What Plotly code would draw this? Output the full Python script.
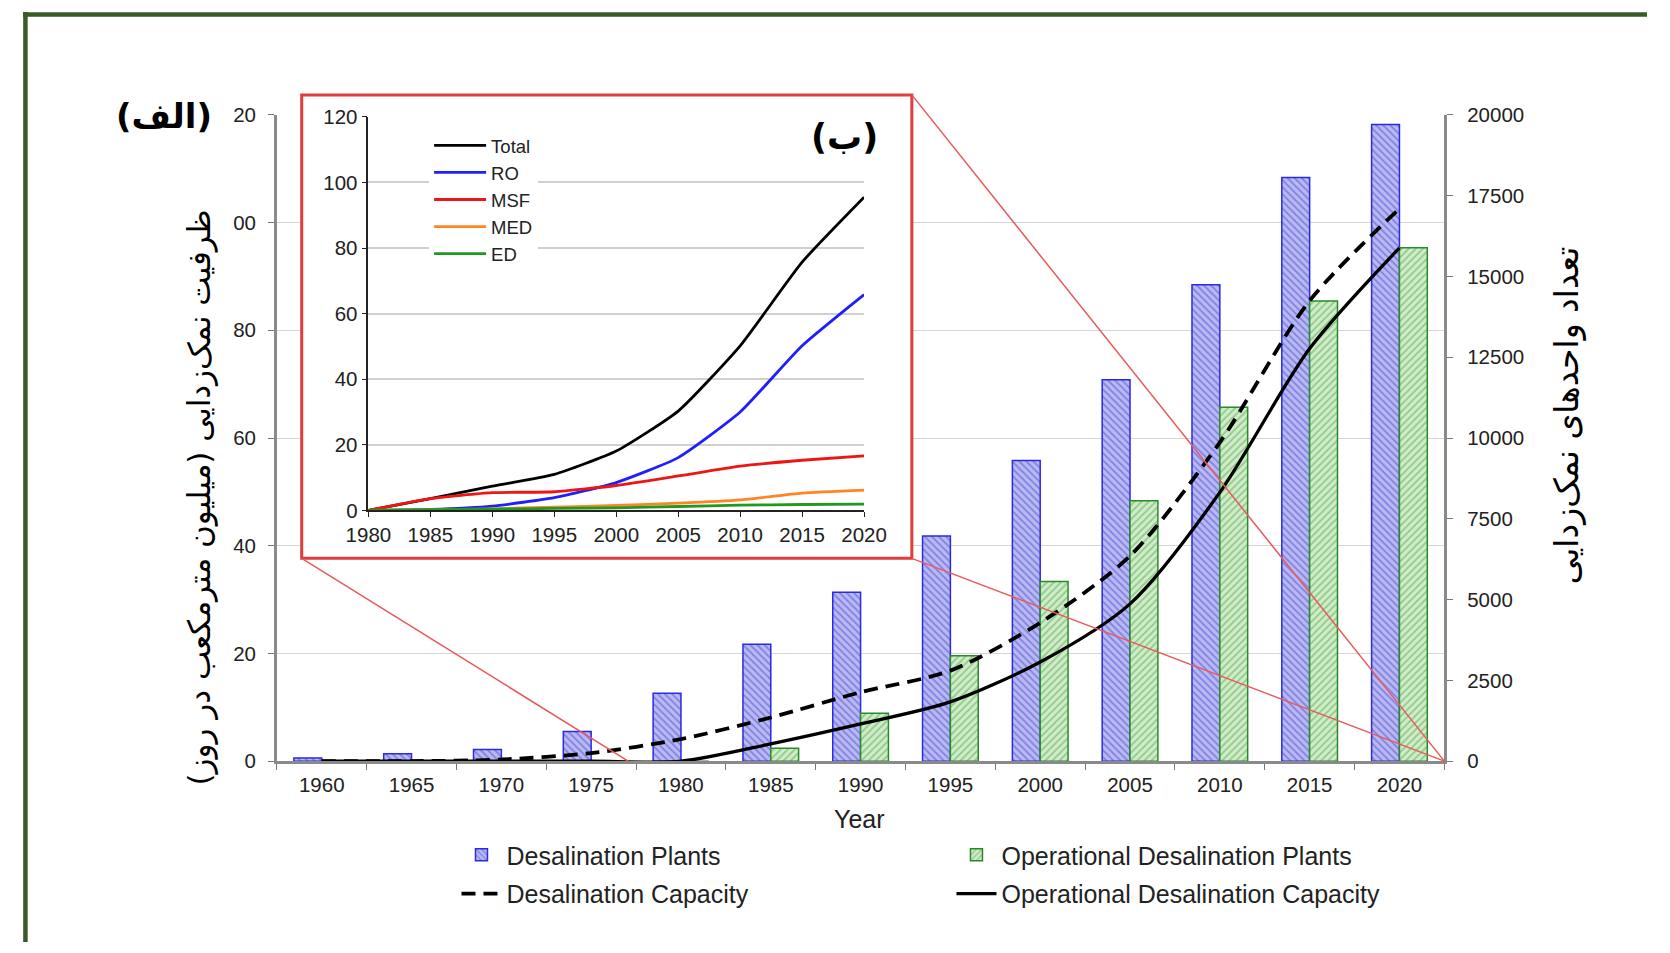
import plotly.graph_objects as go

# ---------------- data ----------------
years = [1960, 1965, 1970, 1975, 1980, 1985, 1990, 1995, 2000, 2005, 2010, 2015, 2020]
plants = [100, 230, 360, 920, 2100, 3620, 5230, 6970, 9300, 11800, 14740, 18060, 19700]
op_plants = [0, 0, 0, 0, 0, 395, 1480, 3260, 5560, 8060, 10950, 14240, 15890]
capacity = [0, 0, 0.3, 1.5, 4.1, 8.1, 12.8, 16.8, 25.7, 38.1, 59.2, 85.5, 102.6]
op_capacity = [0, 0, 0, 0, 0, 3.2, 6.9, 11.0, 18.4, 29.2, 49.9, 76.6, 95.3]

inset_years = [1980, 1985, 1990, 1995, 2000, 2005, 2010, 2015, 2020]
total = [0, 3.6, 7.4, 11.0, 18.1, 30.3, 50.2, 75.7, 95.5]
ro = [0, 0.3, 1.3, 3.9, 8.5, 16.1, 30.0, 50.2, 65.8]
msf = [0, 3.6, 5.4, 5.7, 7.6, 10.5, 13.5, 15.3, 16.6]
med = [0, 0.2, 0.5, 1.0, 1.5, 2.2, 3.2, 5.3, 6.2]
ed = [0, 0.2, 0.4, 0.6, 0.8, 1.2, 1.6, 1.8, 1.9]

left_ticks = [0, 20, 40, 60, 80, 100, 120]
left_ticktext = ["0", "20", "40", "60", "80", "00", "20"]
right_ticks = [0, 2500, 5000, 7500, 10000, 12500, 15000, 17500, 20000]
right_ticktext = ["0", "2500", "5000", "7500", "10000", "12500", "15000", "17500", "20000"]
inset_yticks = [0, 20, 40, 60, 80, 100, 120]

W, H = 1670, 953
S, OX, OY = 0.977, 20.0, 9.0  # observed page-to-photo mapping, compensated below

def px(t):
    return ((t - OX) / S) / W
def py(t):
    return 1 - ((t - OY) / S) / H
def fs(v):
    return round(v / S, 1)

FONT = "Liberation Sans, Arial, sans-serif"
FA = "DejaVu Sans, sans-serif"
BW = 1.55

fig = go.Figure()

# bars (right axis, base)
fig.add_trace(go.Bar(
    x=years, y=plants, name="Desalination Plants", width=BW, offset=-BW,
    marker=dict(color="#b9b9f3", line=dict(color="#2a2ae6", width=1.5),
                pattern=dict(shape="\\", bgcolor="#b9b9f3", fgcolor="#4c4cd2", size=5, solidity=0.35)),
    xaxis="x", yaxis="y", legend="legend"))
fig.add_trace(go.Bar(
    x=years, y=op_plants, name="Operational Desalination Plants", width=BW, offset=0,
    marker=dict(color="#d0edc8", line=dict(color="#2a8a2a", width=1.5),
                pattern=dict(shape="/", bgcolor="#d0edc8", fgcolor="#55a555", size=5, solidity=0.35)),
    xaxis="x", yaxis="y", legend="legend"))

# lines (left axis, overlay)
fig.add_trace(go.Scatter(
    x=years, y=capacity, name="Desalination Capacity", mode="lines",
    line=dict(color="black", width=3.8, dash="14px,8px", shape="spline", smoothing=0.8),
    xaxis="x", yaxis="y2", legend="legend2"))
fig.add_trace(go.Scatter(
    x=years, y=op_capacity, name="Operational Desalination Capacity", mode="lines",
    line=dict(color="black", width=3.3, shape="spline", smoothing=0.8),
    xaxis="x", yaxis="y2", legend="legend2"))

# cover subplot (white background for inset box)
fig.add_trace(go.Scatter(x=[None], y=[None], xaxis="x3", yaxis="y3", showlegend=False, hoverinfo="skip"))

# inset lines
for name, vals, col in [("Total", total, "#000000"), ("RO", ro, "#1e1eff"),
                        ("MSF", msf, "#ee1515"), ("MED", med, "#ff8424"), ("ED", ed, "#1f9a1f")]:
    fig.add_trace(go.Scatter(
        x=inset_years, y=vals, name=name, mode="lines",
        line=dict(color=col, width=2.8, shape="spline", smoothing=0.5),
        xaxis="x4", yaxis="y4", legend="legend3"))

tickfont = dict(family=FONT, size=fs(20), color="#222")

fig.update_layout(
    width=W, height=H, margin=dict(l=0, r=0, t=0, b=0),
    paper_bgcolor="white", plot_bgcolor="white",
    barmode="overlay",
    xaxis=dict(domain=[px(275), px(1448)], range=[1957.5, 2022.5], anchor="y",
               tickmode="array", tickvals=years, ticktext=[str(y) for y in years],
               ticks="", ticklabelstandoff=4, tickfont=tickfont,
               minor=dict(ticks="outside", tick0=1957.5, dtick=5, ticklen=6, tickcolor="#777"),
               showline=True, linecolor="#8a8a8a", linewidth=2.5, showgrid=False, zeroline=False),
    yaxis=dict(domain=[py(759), py(112)], range=[0, 20000], side="right", anchor="x",
               tickmode="array", tickvals=right_ticks, ticktext=right_ticktext,
               ticks="outside", ticklen=6, tickcolor="#777",
               tickfont=tickfont, showline=True, linecolor="#8a8a8a", linewidth=2.5,
               showgrid=False, zeroline=False, ticklabelstandoff=10),
    yaxis2=dict(overlaying="y", side="left", range=[0, 120], anchor="x",
                tickmode="array", tickvals=left_ticks, ticktext=left_ticktext,
                ticks="outside", ticklen=6, tickcolor="#777", tickfont=tickfont,
                showline=True, linecolor="#8a8a8a", linewidth=2.5,
                showgrid=True, gridcolor="#d6d6d6", gridwidth=1, zeroline=False, ticklabelstandoff=8),
    xaxis3=dict(domain=[px(300), px(913)], range=[0, 1], visible=False, anchor="y3", fixedrange=True),
    yaxis3=dict(domain=[py(556), py(92)], range=[0, 1], visible=False, anchor="x3", fixedrange=True),
    xaxis4=dict(domain=[px(367), px(865)], range=[1980, 2020], anchor="y4",
                tickmode="array", tickvals=inset_years, ticks="outside", ticklen=5,
                tickcolor="#222", tickfont=tickfont, showline=True, linecolor="#222",
                linewidth=1.5, showgrid=False, zeroline=False),
    yaxis4=dict(domain=[py(508), py(114)], range=[0, 120], anchor="x4",
                tickmode="array", tickvals=inset_yticks, ticks="outside", ticklen=5,
                tickcolor="#222", tickfont=tickfont, showline=True, linecolor="#222",
                linewidth=1.5, showgrid=True, gridcolor="#d0d0d0", gridwidth=1.5, zeroline=False),
    legend=dict(orientation="h", x=px(455.5), y=py(853), xanchor="left", yanchor="middle",
                font=dict(family=FONT, size=25, color="#222"), entrywidth=440,
                bgcolor="rgba(0,0,0,0)", itemwidth=40, tracegroupgap=0),
    legend2=dict(orientation="h", x=px(455.5), y=py(892), xanchor="left", yanchor="middle",
                 font=dict(family=FONT, size=25, color="#222"), entrywidth=440,
                 bgcolor="rgba(0,0,0,0)", itemwidth=40, tracegroupgap=0),
    legend3=dict(orientation="v", x=px(428), y=py(124), xanchor="left", yanchor="top",
                 font=dict(family=FONT, size=18.5, color="#222"), bgcolor="white",
                 itemwidth=52, tracegroupgap=0),
    showlegend=True,
)

shapes = [
    # inset red box
    dict(type="rect", xref="paper", yref="paper", x0=px(300), x1=px(913), y0=py(556), y1=py(92),
         line=dict(color="#e23c3c", width=3), fillcolor="rgba(0,0,0,0)", layer="above"),
    # connectors
    dict(type="line", xref="paper", yref="paper", x0=px(300), y0=py(556), x1=px(628), y1=py(759),
         line=dict(color="#e85a5a", width=1.5), layer="above"),
    dict(type="line", xref="paper", yref="paper", x0=px(913), y0=py(556), x1=px(1448), y1=py(759),
         line=dict(color="#e85a5a", width=1.5), layer="above"),
    dict(type="line", xref="paper", yref="paper", x0=px(913), y0=py(92), x1=px(1448), y1=py(759),
         line=dict(color="#e85a5a", width=1.5), layer="above"),
    # outer green frame (top and left)
    dict(type="line", xref="paper", yref="paper", x0=0, y0=1 - 2.5 / H, x1=1, y1=1 - 2.5 / H,
         line=dict(color="#3c5a26", width=4.5), layer="above"),
    dict(type="line", xref="paper", yref="paper", x0=2.5 / W, y0=1, x1=2.5 / W, y1=0,
         line=dict(color="#3c5a26", width=4.5), layer="above"),
]
fig.update_layout(shapes=shapes)

annotations = [
    dict(text="ظرفیت نمک‌زدایی (میلیون مترمکعب در روز)", x=px(197), y=py(495), xref="paper", yref="paper",
         textangle=-90, showarrow=False, font=dict(family=FA, size=31, color="black"),
         xanchor="center", yanchor="middle"),
    dict(text="تعداد واحدهای نمک‌زدایی", x=px(1571), y=py(413), xref="paper", yref="paper",
         textangle=-90, showarrow=False, font=dict(family=FA, size=33, color="black"),
         xanchor="center", yanchor="middle"),
    dict(text="Year", x=px(860), y=py(817), xref="paper", yref="paper", showarrow=False,
         font=dict(family=FONT, size=25, color="#222"), xanchor="center", yanchor="middle"),
    dict(text="<b>(الف)</b>", x=px(162), y=py(113), xref="paper", yref="paper", showarrow=False,
         font=dict(family=FA, size=34, color="black"), xanchor="center", yanchor="middle"),
    dict(text="<b>(ب)</b>", x=px(845), y=py(134), xref="paper", yref="paper", showarrow=False,
         font=dict(family=FA, size=35, color="black"), xanchor="center", yanchor="middle",
         bgcolor="white", borderpad=6),
]
fig.update_layout(annotations=annotations)

fig.write_html("out.html", config={"displayModeBar": False},
               post_script="document.body.style.margin='0px';document.body.style.overflow='hidden';")
